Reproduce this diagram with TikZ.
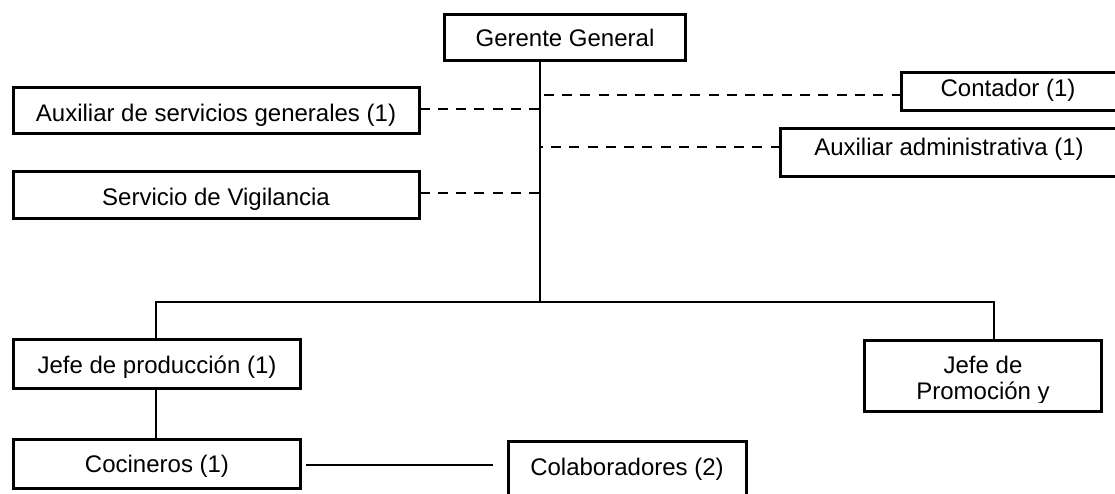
\documentclass[tikz,border=0pt]{standalone}
\usepackage{fontspec}
\setmainfont{Liberation Sans}
\begin{document}
\begin{tikzpicture}[x=1pt,y=-1pt,
  orgbox/.style={draw=black,line width=3.6pt,fill=white,inner sep=0pt,outer sep=0pt},
  lbl/.style={anchor=base,inner sep=0pt,font=\fontsize{24}{26}\selectfont},
  link/.style={draw=black,line width=2.2pt},
  dotlink/.style={draw=black,line width=2.2pt,dash pattern=on 10pt off 8.3pt}]
\useasboundingbox[fill=white] (0,0) rectangle (1115,493);
\clip (0,0) rectangle (1115,493);

% boxes
\node[orgbox,minimum width=241pt,minimum height=46pt] (gg)   at (565,37.5) {};
\node[orgbox,minimum width=406pt,minimum height=46pt] (aux)  at (216.5,110.5) {};
\node[orgbox,minimum width=406pt,minimum height=47pt] (vig)  at (216.5,195) {};
\node[orgbox,minimum width=217.5pt,minimum height=38pt] (cont) at (1010.25,91.5) {};
\node[orgbox,minimum width=338.5pt,minimum height=48pt] (adm)  at (949.75,152.5) {};
\node[orgbox,minimum width=287pt,minimum height=49pt] (jp)   at (157,364) {};
\node[orgbox,minimum width=287pt,minimum height=49pt] (coc)  at (157,464) {};
\node[orgbox,minimum width=238pt,minimum height=60pt] (col)  at (627.5,471.5) {};
\node[orgbox,minimum width=237pt,minimum height=71pt] (prom) at (983,376) {};

% labels (text boxes cut off their lowest line a little)
\node[lbl] at (565,46) {Gerente General};
\begin{scope}
  \clip (20,90) rectangle (412,125.5);
  \node[lbl] at (216,121) {Auxiliar de servicios generales (1)};
\end{scope}
\begin{scope}
  \clip (20,175) rectangle (412,209.5);
  \node[lbl] at (216,205) {Servicio de Vigilancia};
\end{scope}
\node[lbl] at (1008,96) {Contador (1)};
\node[lbl] at (949,155) {Auxiliar administrativa (1)};
\node[lbl] at (157,373) {Jefe de producción (1)};
\node[lbl] at (157,472) {Cocineros (1)};
\node[lbl] at (627,475) {Colaboradores (2)};
\node[lbl] at (983,373) {Jefe de};
\begin{scope}
  \clip (870,378) rectangle (1096,402.5);
  \node[lbl] at (983,399) {Promoción y};
\end{scope}

% junction points of the trunk and the bus
\coordinate (trunk) at (540,302);
\coordinate (busL)  at (156,302);
\coordinate (busR)  at (994,302);

% solid reporting lines
\draw[link] (gg.south -| trunk) -- (trunk);
\draw[link] (jp.north -| busL) -- (busL) -- (busR) -- (prom.north -| busR);
\draw[link] (jp.south -| busL) -- (coc.north -| busL);
\draw[link,shorten <=5.5pt,shorten >=15.5pt] ([yshift=-1pt]coc.east) -- ([yshift=-1pt]coc.east -| col.west);

% dashed staff lines
\draw[dotlink] ([yshift=1.5pt]aux.east) -- ([yshift=1.5pt]aux.east -| trunk);
\draw[dotlink] ([yshift=2pt]vig.east) -- ([yshift=2pt]vig.east -| trunk);
\draw[dotlink] ([yshift=-3.5pt]cont.west) -- ([yshift=-3.5pt]cont.west -| trunk);
\draw[dotlink] ([yshift=5.5pt]adm.west) -- ([yshift=5.5pt]adm.west -| trunk);
\end{tikzpicture}
\end{document}
